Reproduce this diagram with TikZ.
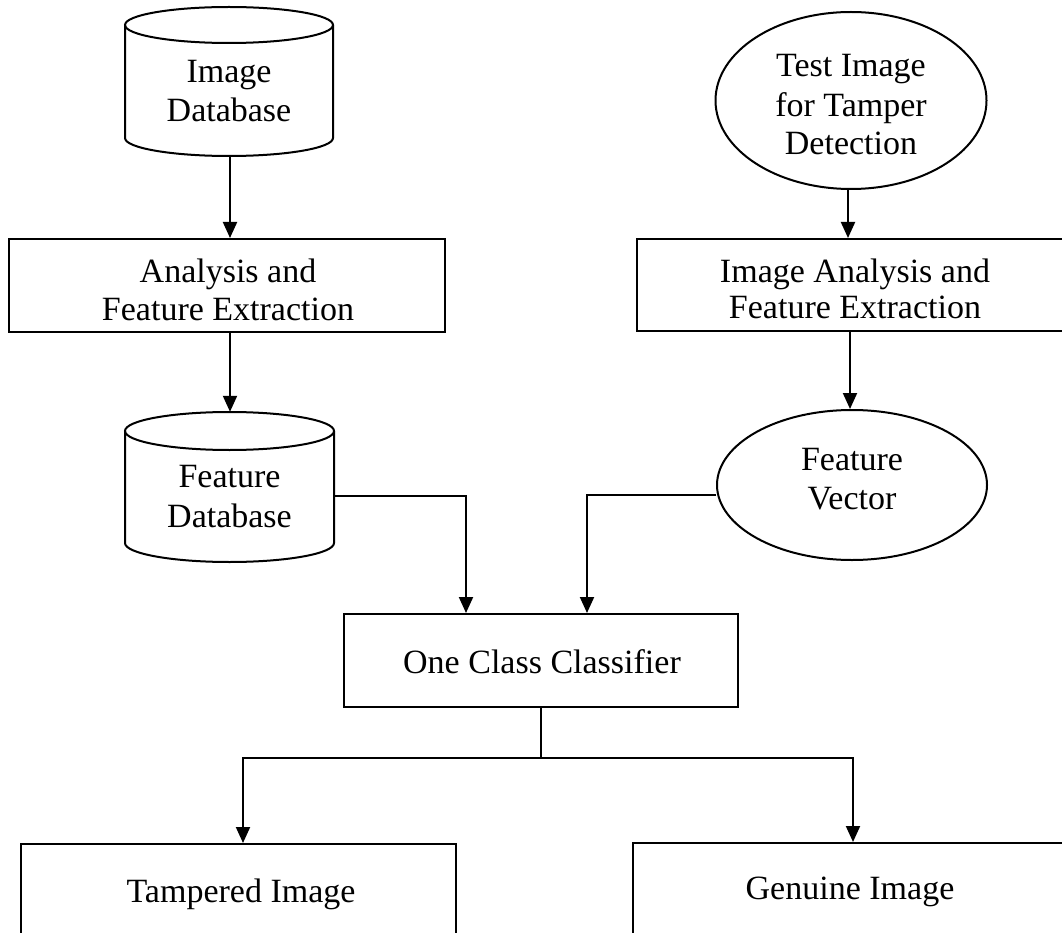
\documentclass[tikz,border=0pt]{standalone}
\usepackage{fontspec}
\setmainfont{Liberation Serif}
\usetikzlibrary{arrows.meta,shapes.geometric}
\tikzset{
  ln/.style={line width=2pt, draw=black},
  arr/.style={ln, -{Triangle[width=14pt,length=16pt]}},
  boxnode/.style={draw=black, line width=2pt, rectangle, inner sep=0pt},
  ellnode/.style={draw=black, line width=2pt, ellipse, inner sep=0pt},
  cylarea/.style={rectangle, inner sep=0pt},
  txt/.style={anchor=base, inner sep=0pt, font=\fontsize{34}{39}\selectfont},
}
\begin{document}
\begin{tikzpicture}[x=1pt,y=-1pt]
\useasboundingbox (0,0) rectangle (1062,933);
\fill[white] (0,0) rectangle (1062,933);

% shape nodes
\node[cylarea, minimum width=208pt, minimum height=149pt] (imgdb) at (229,81.5) {};
\node[boxnode, minimum width=436pt, minimum height=93pt] (box1) at (227,285.5) {};
\node[cylarea, minimum width=209pt, minimum height=150pt] (featdb) at (229.5,487) {};
\node[ellnode, minimum width=271pt, minimum height=177pt] (testimg) at (851,100.5) {};
\node[boxnode, minimum width=436pt, minimum height=92pt] (box2) at (855,285) {};
\node[ellnode, minimum width=270pt, minimum height=150pt] (featvec) at (852,485) {};
\node[boxnode, minimum width=394pt, minimum height=93pt] (occ) at (541,660.5) {};
\node[boxnode, minimum width=435pt, minimum height=96pt] (tamp) at (238.5,892) {};
\node[boxnode, minimum width=434pt, minimum height=98pt] (gen) at (850,892) {};

% cylinders
\draw[ln] (229,25) ellipse [x radius=104, y radius=18];
\draw[ln] (125,25) -- (125,138) .. controls (125,147.94) and (171.6,156) .. (229,156)
  .. controls (286.4,156) and (333,147.94) .. (333,138) -- (333,25);
\draw[ln] (229.5,431) ellipse [x radius=104.5, y radius=19];
\draw[ln] (125,431) -- (125,543) .. controls (125,553.5) and (171.8,562) .. (229.5,562)
  .. controls (287.2,562) and (334,553.5) .. (334,543) -- (334,431);

% texts
\node[txt] (t1a) at (229,83) {Image};
\node[txt] (t1b) at (229,122) {Database};
\node[txt] (t2a) at (228,282) {Analysis and};
\node[txt] (t2b) at (228,320) {Feature Extraction};
\node[txt] (t3a) at (229.5,487) {Feature};
\node[txt] (t3b) at (229.5,527) {Database};
\node[txt] (t4a) at (851,77) {Test Image};
\node[txt] (t4b) at (851,117) {for Tamper};
\node[txt] (t4c) at (851,155) {Detection};
\node[txt] (t5a) at (855,282) {Image Analysis and};
\node[txt] (t5b) at (855,318) {Feature Extraction};
\node[txt] (t6a) at (852,470) {Feature};
\node[txt] (t6b) at (852,509) {Vector};
\node[txt] (t7) at (542,673) {One Class Classifier};
\node[txt] (t8) at (241,902) {Tampered Image};
\node[txt] (t9) at (850,899) {Genuine Image};

% helper coordinates
\coordinate (a1) at (230,0);
\coordinate (a3) at (848,0);
\coordinate (a4) at (850,0);
\coordinate (c1) at (466,0);
\coordinate (c2) at (587,0);
\coordinate (c3) at (243,0);
\coordinate (c4) at (853,0);
\coordinate (split) at (541,758);

% connectors
\draw[arr] (a1 |- imgdb.south) -- (a1 |- box1.north);
\draw[arr] (a1 |- box1.south) -- (a1 |- featdb.north);
\draw[arr] (a3 |- testimg.south) -- (a3 |- box2.north);
\draw[arr] (a4 |- box2.south) -- (a4 |- featvec.north);
\draw[arr] ([yshift=-9pt]featdb.east) -| (c1 |- occ.north);
\draw[arr] ([yshift=-10pt]featvec.west) -| (c2 |- occ.north);
\draw[ln] (occ.south) -- (split);
\draw[arr] (split) -| (c3 |- tamp.north);
\draw[arr] (split) -| (c4 |- gen.north);
\end{tikzpicture}
\end{document}
